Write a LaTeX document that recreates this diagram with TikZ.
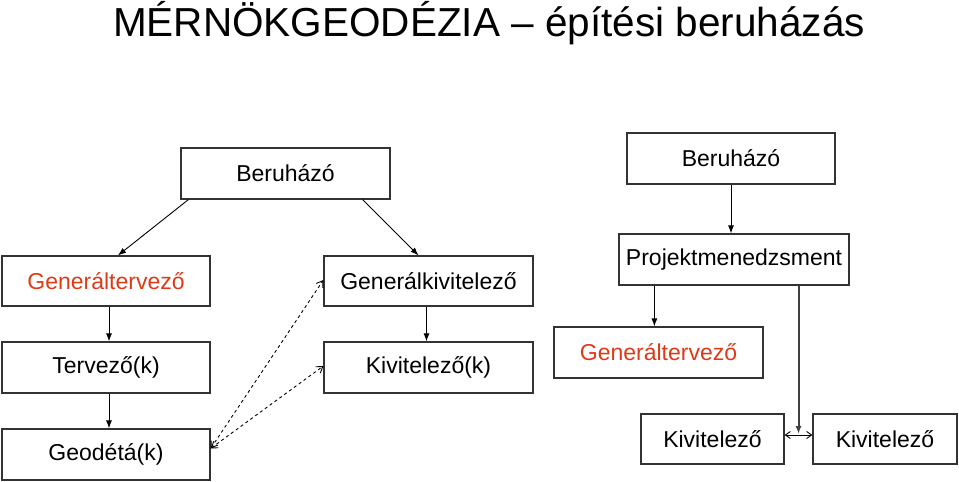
\documentclass[tikz,border=0pt]{standalone}
\usepackage{fontspec}
\setmainfont{Liberation Sans}
\usetikzlibrary{arrows.meta, calc}
\definecolor{piros}{RGB}{222,58,24}

\begin{document}
\begin{tikzpicture}[x=1pt, y=-1pt,
    doboz/.style={draw=black!80, line width=1.2pt, minimum height=51pt, minimum width=209pt,
      inner sep=0pt, font=\fontsize{23}{25}\selectfont},
    kiemelt/.style={doboz, text=piros},
    nyil/.style={-{Latex[length=8pt,width=6pt]}, line width=0.9pt},
    szagg/.style={{Straight Barb[length=6pt,width=8pt]}-{Straight Barb[length=6pt,width=8pt]}, dashed, line width=0.9pt}]
  \useasboundingbox (0,0) rectangle (959,482);
  \node (cim) at (489,23) {\fontsize{40.5}{44}\selectfont MÉRNÖKGEODÉZIA – építési beruházás};
  % bal oldal
  \node[doboz] (beru1) at (285.5,173.5) {Beruházó};
  \node[kiemelt, minimum height=50pt, minimum width=208pt] (gt1) at (106,281) {Generáltervező};
  \node[doboz, minimum height=50pt] (gk) at (428.5,281) {Generálkivitelező};
  \node[doboz, minimum width=208pt] (terv) at (106,367.5) {Tervező(k)};
  \node[doboz] (kiv) at (428.5,367.5) {Kivitelező(k)};
  \node[doboz, minimum width=208pt] (geod) at (106,454.5) {Geodétá(k)};
  % jobb oldal
  \node[doboz, minimum width=208pt] (beru2) at (731,158.5) {Beruházó};
  \node[doboz, minimum width=230pt] (pm) at (734,259.5) {Projektmenedzsment};
  \node[kiemelt] (gt2) at (658.5,352.5) {Generáltervező};
  \node[doboz, minimum width=143pt, minimum height=50pt] (kiv1) at (712.5,439) {Kivitelező};
  \node[doboz, minimum width=144pt, minimum height=50pt] (kiv2) at (885,439) {Kivitelező};
  \coordinate (m) at ($(kiv1.east)!.5!(kiv2.west)$);

  \draw[nyil] ([xshift=8]beru1.south west) -- ([xshift=12]gt1.north);
  \draw[nyil] ([xshift=-28]beru1.south east) -- ([xshift=-10]gk.north);
  \draw[nyil] ([xshift=3]gt1.south) -- ([xshift=3]terv.north);
  \draw[nyil] ([xshift=3]terv.south) -- ([xshift=3]geod.north);
  \draw[nyil] ([xshift=-2]gk.south) -- ([xshift=-2]kiv.north);
  \draw[szagg] ([yshift=6]geod.east) -- ([yshift=1]gk.west);
  \draw[szagg] ([yshift=6]geod.east) -- ([yshift=1.5]kiv.west);
  \draw[nyil] (beru2.south) -- (beru2.south |- pm.north);
  \draw[nyil] ([xshift=36]pm.south west) -- ([xshift=36]pm.south west |- gt2.north);
  \draw[nyil, draw=black!75, line width=2pt] (m |- pm.south) -- ([yshift=5]m);
  \draw[{Straight Barb[length=5pt,width=7pt]}-{Straight Barb[length=5pt,width=7pt]}, line width=0.9pt]
    ([yshift=4]kiv1.east) -- ([yshift=4]kiv2.west);
\end{tikzpicture}
\end{document}
